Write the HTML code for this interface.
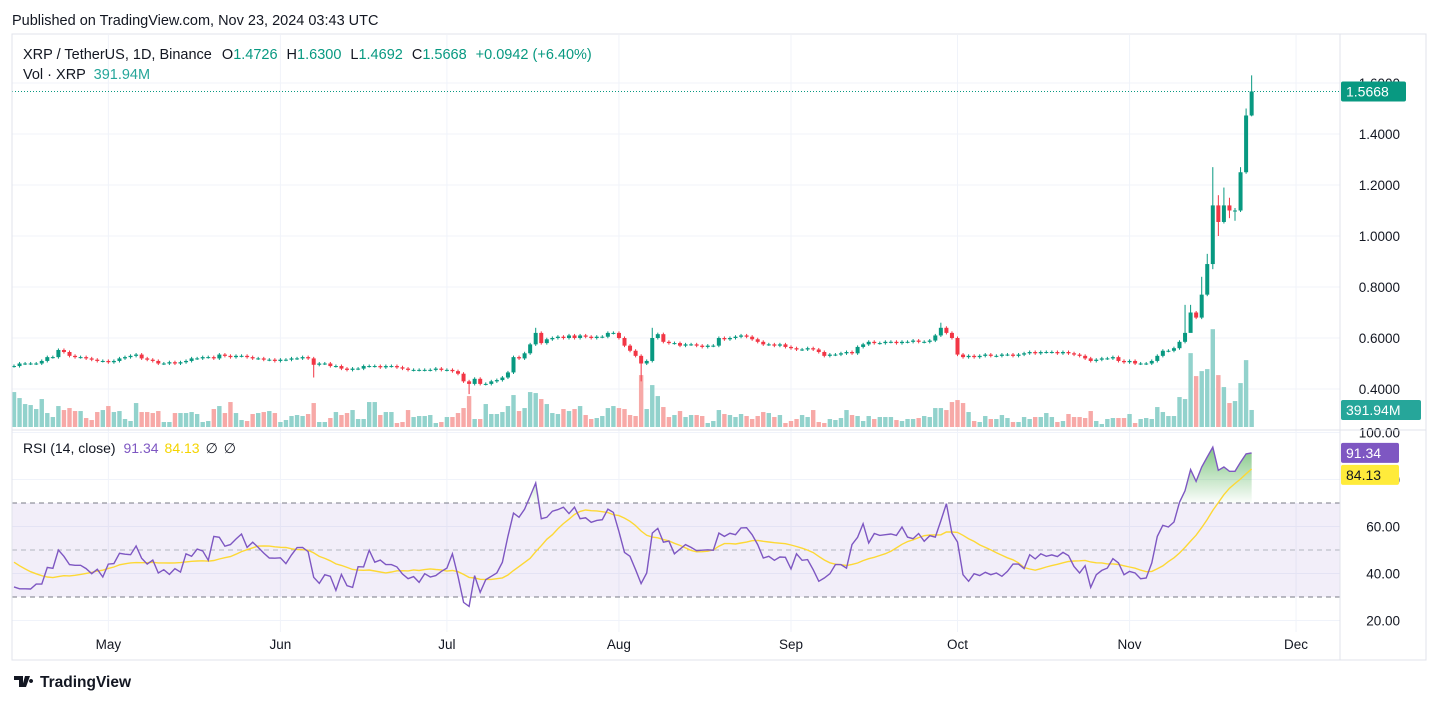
<!DOCTYPE html>
<html><head><meta charset="utf-8"><style>
html,body{margin:0;padding:0;background:#fff;}
svg{display:block;font-family:"Liberation Sans",sans-serif;}
</style></head><body>
<svg id="chart" width="1439" height="703" viewBox="0 0 1439 703">
<rect x="0" y="0" width="1439" height="703" fill="#ffffff"/>
<text x="12" y="25" font-size="14.5" fill="#131722">Published on TradingView.com, Nov 23, 2024 03:43 UTC</text>
<g id="grid"></g>
<g id="rsibg"></g>
<g id="vol"></g>
<g id="candles"></g>
<g id="rsi"></g>
<g id="axes"></g>
<rect x="12" y="34" width="1414" height="626" fill="none" stroke="#e0e3eb"/>
<line x1="12" y1="430" x2="1426" y2="430" stroke="#e0e3eb"/>
<line x1="1340" y1="34" x2="1340" y2="660" stroke="#e0e3eb"/>
<g font-size="14.5">
<text x="23" y="59" fill="#131722">XRP / TetherUS, 1D, Binance <tspan dx="6">O</tspan><tspan fill="#089981">1.4726</tspan><tspan dx="9">H</tspan><tspan fill="#089981">1.6300</tspan><tspan dx="9">L</tspan><tspan fill="#089981">1.4692</tspan><tspan dx="9">C</tspan><tspan fill="#089981">1.5668</tspan><tspan dx="9" fill="#089981">+0.0942 (+6.40%)</tspan></text>
<text x="23" y="79" fill="#131722">Vol · XRP <tspan dx="4" fill="#26a69a">391.94M</tspan></text>
</g>
<text x="23" y="453" font-size="14" fill="#131722">RSI (14, close) <tspan dx="4" fill="#7e57c2">91.34</tspan><tspan dx="6" fill="#f5d400">84.13</tspan><tspan dx="6">∅</tspan><tspan dx="6">∅</tspan></text>
<g>
<path d="M14 676h9v11h-4v-7h-5z M25 676h5l-4 11h-4z M31 679a2 2 0 1 0 0.1 0z" fill="#131722"/>
<text x="40" y="687" font-size="15.5" font-weight="bold" fill="#131722">TradingView</text>
</g>
</svg>
<script>
const closes = [
0.49,0.50,0.50,0.50,0.50,0.51,0.525,0.525,0.553,0.545,0.53,0.525,0.525,0.52,0.515,0.51,0.51,
0.505,0.51,0.52,0.525,0.53,0.535,0.52,0.515,0.51,0.50,0.50,0.505,0.50,0.505,0.51,0.52,0.52,0.525,0.525,0.52,0.535,0.53,0.525,0.53,0.53,0.525,0.52,0.52,0.515,0.515,0.51,
0.515,0.515,0.52,0.52,0.525,0.52,0.495,0.50,0.50,0.49,0.49,0.48,0.475,0.48,0.48,0.49,0.49,0.49,0.485,0.49,0.49,0.485,0.48,0.475,0.475,0.475,0.475,0.475,0.48,0.475,
0.475,0.47,0.46,0.43,0.42,0.44,0.42,0.42,0.43,0.435,0.445,0.465,0.525,0.52,0.54,0.575,0.62,0.58,0.595,0.60,0.605,0.60,0.61,0.60,0.61,0.605,0.60,0.605,0.605,0.62,0.62,
0.60,0.57,0.55,0.53,0.50,0.51,0.60,0.615,0.585,0.58,0.58,0.57,0.575,0.575,0.57,0.565,0.57,0.57,0.60,0.595,0.60,0.605,0.61,0.605,0.595,0.585,0.575,0.575,0.57,0.575,0.565,
0.56,0.555,0.555,0.56,0.555,0.545,0.53,0.535,0.535,0.54,0.545,0.54,0.565,0.575,0.585,0.58,0.58,0.585,0.585,0.58,0.585,0.585,0.59,0.585,0.585,0.59,0.61,0.64,0.62,0.60,
0.535,0.525,0.53,0.525,0.53,0.535,0.53,0.53,0.535,0.535,0.53,0.535,0.54,0.545,0.54,0.545,0.545,0.545,0.54,0.545,0.54,0.535,0.53,0.52,0.51,0.515,0.52,0.52,0.525,0.51,0.505,
0.51,0.50,0.50,0.50,0.51,0.53,0.55,0.55,0.56,0.585,0.62,0.70,0.68,0.77,0.89,1.12,1.055,1.12,1.10,1.10,1.25,1.4726,1.5668];
const firstOpen = 0.49;
const wickHigh = {94:0.64,115:0.64,167:0.66,211:0.73,212:0.73,214:0.84,215:0.93,216:1.27,217:1.16,218:1.19,219:1.15,220:1.11,221:1.27,222:1.50,223:1.63};
const wickLow = {54:0.445,82:0.38,113:0.43,212:0.64,216:0.87,217:1.00,219:1.07,220:1.06,223:1.4692};
const volumes = [
805,667,529,506,414,644,322,230,483,391,437,368,368,207,161,345,391,483,345,368,184,138,552,345,345,322,368,115,115,322,322,322,345,299,115,138,414,483,322,575,322,161,138,299,322,345,368,322,115,161,253,276,253,299,552,115,115,207,345,276,322,
391,184,184,575,575,276,345,345,92,115,391,230,253,253,276,92,115,230,230,322,437,713,184,184,529,299,299,345,483,736,368,437,805,782,644,529,322,299,414,368,414,483,276,184,207,253,437,483,437,414,276,253,1196,414,966,713,460,230,276,368,230,
276,276,253,92,138,391,299,276,230,299,253,184,253,345,322,230,276,92,138,184,276,230,391,115,92,184,161,207,391,276,253,138,253,184,230,230,230,161,138,184,184,207,253,230,437,437,391,575,621,552,345,138,115,253,184,184,276,207,115,115,230,
184,230,230,322,230,115,138,299,230,230,207,368,138,69,184,207,207,207,299,92,184,207,184,460,345,253,253,690,644,1702,1173,1288,1334,2254,1196,920,552,598,1012,1541,392];
const rsiPrior = [55,52,50,48,47,50,46,44,42,45,40,38,36];
const rsiValues = [
34.3,33.5,33.5,33.4,35.5,35.5,42.6,42.2,50.0,47.3,43.8,43.5,43.5,42.1,39.9,41.8,38.5,44.0,44.2,48.6,
48.2,48.0,51.7,46.5,44.0,45.7,40.2,41.6,39.6,42.1,40.6,48.4,47.3,50.4,49.6,45.6,55.8,55.4,51.6,52.3,
54.7,56.8,51.1,53.3,51.1,48.7,46.6,46.5,46.7,44.2,47.9,51.0,51.1,49.3,38.4,35.8,39.5,38.8,32.8,39.6,
34.8,34.1,42.9,42.8,49.9,44.8,45.7,43.8,43.8,42.8,39.8,37.8,38.7,36.2,39.9,38.5,
39.1,40.9,42.3,48.4,38.8,27.7,26.0,39.1,32.0,37.4,38.8,40.2,44.8,55.8,65.7,63.9,67.4,72.8,78.5,63.3,
63.9,66.5,67.2,68.2,65.5,68.2,63.3,63.7,61.8,62.6,62.9,67.4,66.0,57.9,49.0,47.3,41.6,35.7,40.2,57.2,
59.2,53.3,53.8,48.4,50.4,52.3,51.1,49.7,49.9,50.1,49.9,57.2,55.8,57.1,56.5,59.4,59.5,56.5,52.3,46.6,
47.3,45.6,47.0,46.9,41.9,48.4,45.6,45.9,41.6,36.7,38.1,39.9,43.8,43.8,42.3,
52.3,55.4,61.2,53.0,57.0,56.2,56.5,56.8,56.2,59.8,55.5,54.8,57.0,53.7,56.1,55.5,62.5,69.7,57.2,53.4,
39.5,36.7,39.9,39.1,40.5,39.5,40.2,38.8,40.9,44.0,44.0,42.1,48.0,46.2,48.4,47.3,47.9,47.2,49.0,47.6,
43.0,40.2,43.3,34.1,39.5,41.3,42.3,46.3,44.5,39.5,40.9,40.2,37.8,38.1,44.5,55.8,60.5,59.8,61.9,70.3,
75.2,84.2,79.2,85.3,89.6,93.8,83.9,85.3,83.5,83.5,87.3,90.9,91.34];
const monthLabels = ["May","Jun","Jul","Aug","Sep","Oct","Nov","Dec"];
const monthIndex = [17,48,78,109,140,170,201,231];
const priceTicks = [0.4,0.6,0.8,1.0,1.2,1.4,1.6];
const rsiTicks = [20,40,60,80,100];

const NS="http://www.w3.org/2000/svg";
function mk(tag,attrs,parent){const e=document.createElementNS(NS,tag);for(const k in attrs)e.setAttribute(k,attrs[k]);parent.appendChild(e);return e;}
const xOf=i=>14+i*5.55;
const yP=p=>389-(p-0.4)*255;
const yV=v=>427-v*0.0434;
const yR=r=>503+(70-r)*2.35;
const G=document.getElementById('grid'),C=document.getElementById('candles'),V=document.getElementById('vol'),R=document.getElementById('rsi'),A=document.getElementById('axes'),B=document.getElementById('rsibg');

monthIndex.forEach((mi,k)=>{
  const gl=mk('line',{x1:xOf(mi),x2:xOf(mi),y1:35,y2:632,stroke:'#f0f3fa'},G);
  
  
  const t=mk('text',{x:xOf(mi),y:649,'text-anchor':'middle','font-size':13.5,fill:'#131722'},A);
  t.textContent=monthLabels[k];
  
  
});
priceTicks.forEach(p=>{
  const gl=mk('line',{x1:12,x2:1340,y1:yP(p),y2:yP(p),stroke:'#f0f3fa'},G);
  
  
  const t=mk('text',{x:1400,y:yP(p)+5,'text-anchor':'end','font-size':13.5,fill:'#131722'},A);
  t.textContent=p.toFixed(4);
  
  
});
rsiTicks.forEach(r=>{
  const gl=mk('line',{x1:12,x2:1340,y1:yR(r),y2:yR(r),stroke:'#f0f3fa'},G);
  
  
  const t=mk('text',{x:1400,y:yR(r)+5,'text-anchor':'end','font-size':13.5,fill:'#131722'},A);
  t.textContent=r.toFixed(2);
  
  
});
const band=mk('rect',{x:12,y:yR(70),width:1328,height:yR(30)-yR(70),fill:'#7e57c2','fill-opacity':0.1},B);


[[70,'#787b86'],[50,'#b2b5be'],[30,'#787b86']].forEach(([r,c])=>{
  const l=mk('line',{x1:12,x2:1340,y1:yR(r),y2:yR(r),stroke:c,'stroke-dasharray':'5 4'},B);
  
  
});

closes.forEach((c,i)=>{
  const o=i===0?firstOpen:closes[i-1];
  const up=c>=o;
  const hi=wickHigh[i]!==undefined?wickHigh[i]:Math.max(o,c)+0.006;
  const lo=wickLow[i]!==undefined?wickLow[i]:Math.min(o,c)-0.006;
  const col=up?'#089981':'#f23645';
  const x=xOf(i);
  const w=mk('line',{x1:x,x2:x,y1:yP(hi),y2:yP(lo),stroke:col,'stroke-width':1},C);
  
  
  const top=yP(Math.max(o,c)),bot=yP(Math.min(o,c));
  const b=mk('rect',{x:x-2,y:top,width:4,height:Math.max(1,bot-top),fill:col},C);
  
  
  const vb=mk('rect',{x:x-2.2,y:yV(volumes[i]),width:4.4,height:427-yV(volumes[i]),fill:up?'#92d2cc':'#f7a9a7'},V);
  
  
});

const all=rsiPrior.concat(rsiValues);
const ma=rsiValues.map((v,i)=>{let s=0;for(let k=0;k<14;k++)s+=all[i+rsiPrior.length-k];return s/14;});
let defs=mk('defs',{},R);
let lg=mk('linearGradient',{id:'obg',x1:0,y1:0,x2:0,y2:1},defs);
mk('stop',{offset:'0','stop-color':'#4caf50','stop-opacity':0.7},lg);
mk('stop',{offset:'1','stop-color':'#4caf50','stop-opacity':0.02},lg);
let fp='';
rsiValues.forEach((v,i)=>{fp+=(i?'L':'M')+xOf(i)+' '+yR(Math.max(v,70));});
fp+='L'+xOf(rsiValues.length-1)+' '+yR(70)+'L'+xOf(0)+' '+yR(70)+'Z';
const ob=mk('path',{d:fp,fill:'url(#obg)'},R);


let mp='',rp='';
rsiValues.forEach((v,i)=>{rp+=(i?'L':'M')+xOf(i).toFixed(1)+' '+yR(v).toFixed(1);mp+=(i?'L':'M')+xOf(i).toFixed(1)+' '+yR(ma[i]).toFixed(1);});
const mal=mk('path',{d:mp,fill:'none',stroke:'#fdd835','stroke-width':1.4},R);


const rl=mk('path',{d:rp,fill:'none',stroke:'#7e57c2','stroke-width':1.4},R);



const last=closes[closes.length-1];
const pl=mk('line',{x1:12,x2:1340,y1:yP(last),y2:yP(last),stroke:'#089981','stroke-dasharray':'1 2'},A);


function badge(name,y,w,fill,txt,tc){
  const g=mk('g',{},A);
  
  
  mk('rect',{x:1341,y:y-10,width:w,height:20,rx:2,fill:fill},g);
  const t=mk('text',{x:1346,y:y+5,'font-size':14,fill:tc},g);
  t.textContent=txt;
}
badge('last-price-badge',yP(last),65,'#089981',last.toFixed(4),'#fff');
badge('volume-badge',410,80,'#26a69a','391.94M','#fff');
const rLast=yR(rsiValues[rsiValues.length-1]);
badge('rsi-value-badge',rLast,58,'#7e57c2',rsiValues[rsiValues.length-1].toFixed(2),'#fff');
badge('rsi-ma-badge',Math.max(yR(ma[ma.length-1]),rLast+22),58,'#ffeb3b','84.13','#131722');
</script>
</body></html>
